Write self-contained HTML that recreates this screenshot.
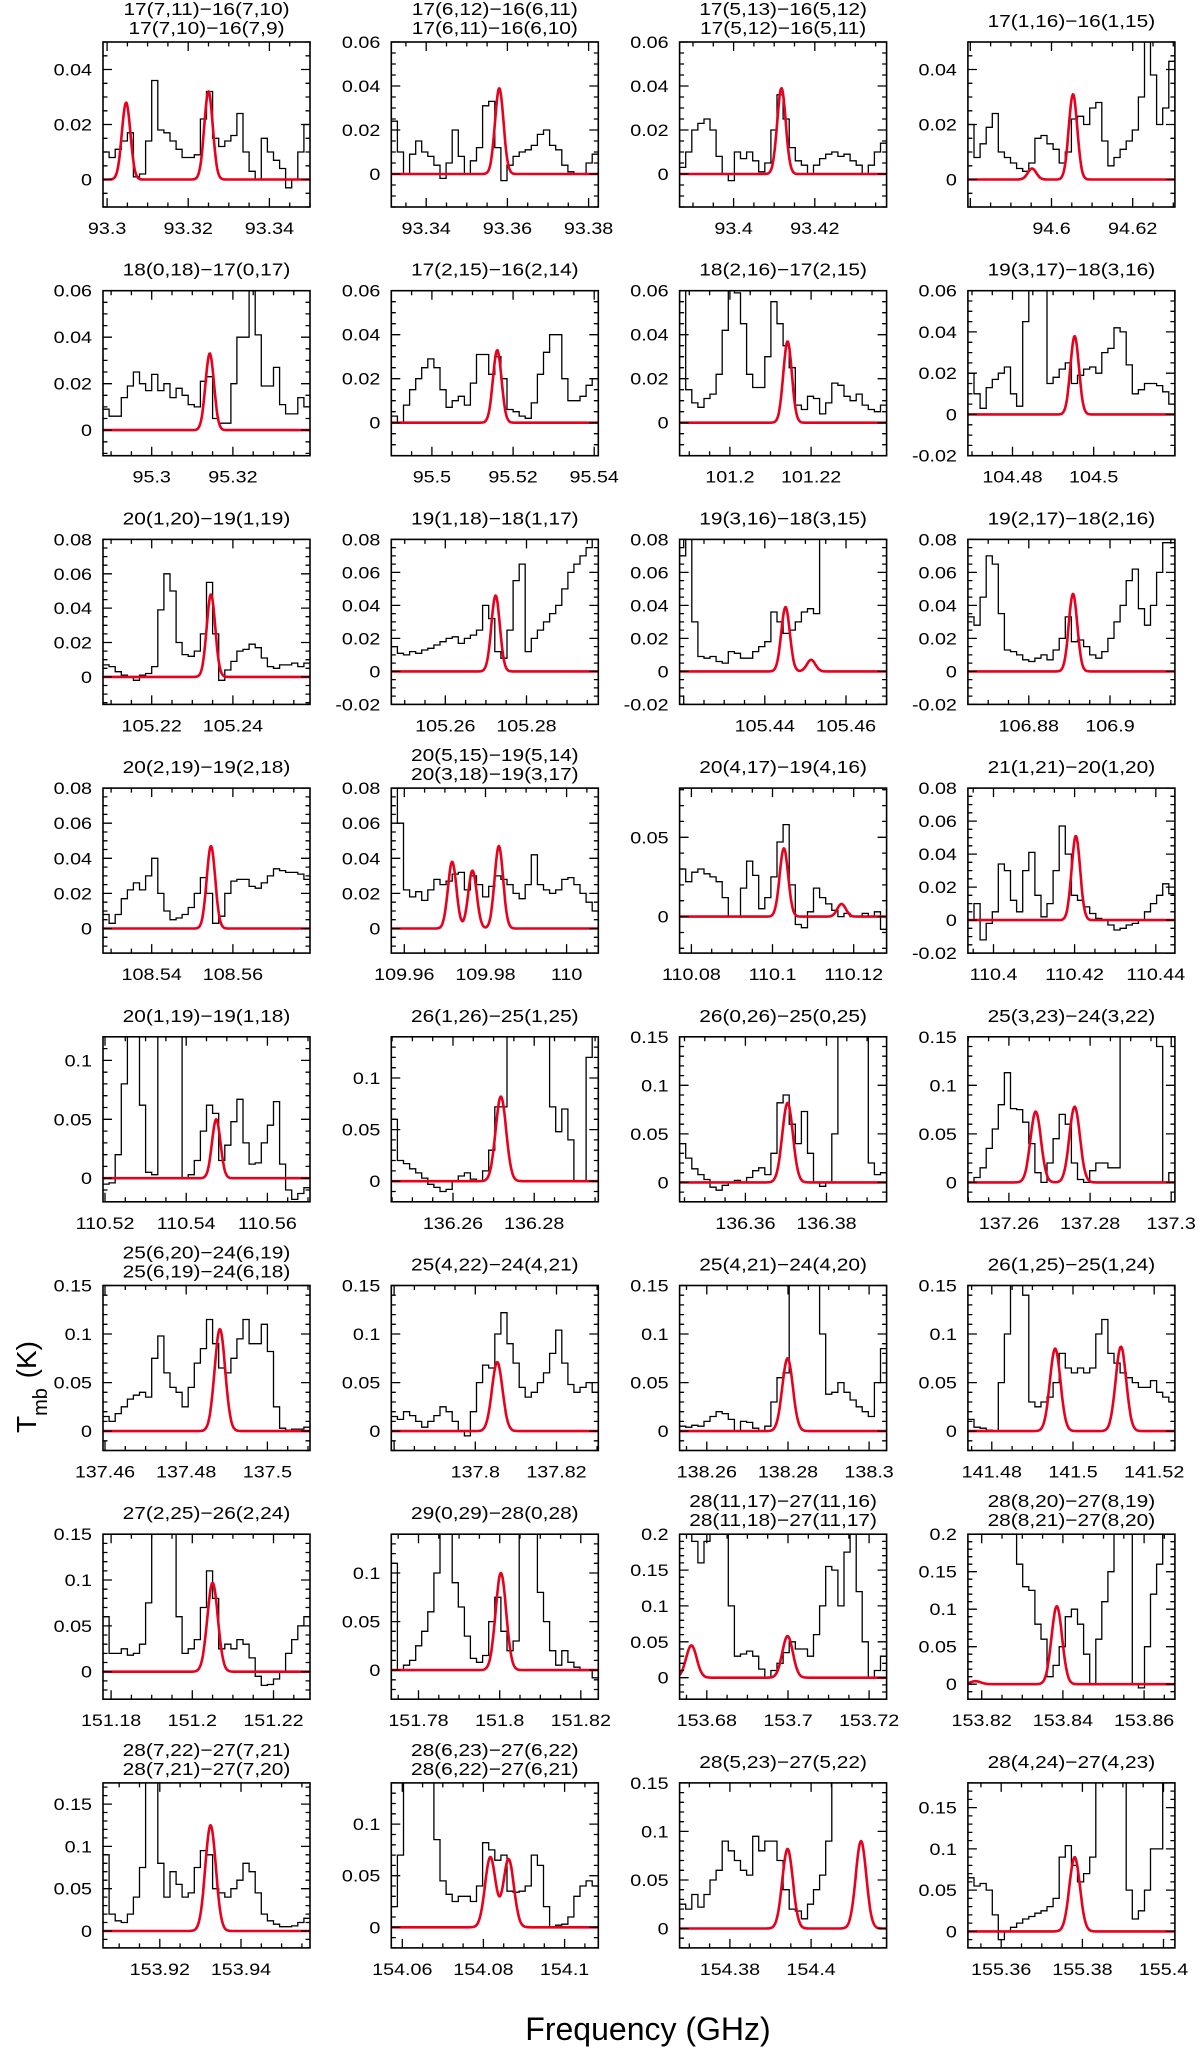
<!DOCTYPE html>
<html><head><meta charset="utf-8"><title>Spectral line panels</title>
<style>
html,body{margin:0;padding:0;background:#fff;}
svg{display:block;font-family:"Liberation Sans",Arial,sans-serif;}
</style></head>
<body>
<svg id="fig" width="1200" height="2048" viewBox="0 0 1200 2048" xmlns="http://www.w3.org/2000/svg">
<rect x="0" y="0" width="1200" height="2048" fill="#fff"/>
<text transform="translate(36,1387) rotate(-90)" text-anchor="middle" font-size="28" fill="#000">T<tspan baseline-shift="sub" font-size="20">mb</tspan><tspan baseline-shift="0" dx="2"> (K)</tspan></text>
<text x="648" y="2040" text-anchor="middle" font-size="32" fill="#000">Frequency (GHz)</text>
</svg>
<script>
const titles = [
["17(7,11)−16(7,10)","17(7,10)−16(7,9)"],["17(6,12)−16(6,11)","17(6,11)−16(6,10)"],["17(5,13)−16(5,12)","17(5,12)−16(5,11)"],["17(1,16)−16(1,15)"],
["18(0,18)−17(0,17)"],["17(2,15)−16(2,14)"],["18(2,16)−17(2,15)"],["19(3,17)−18(3,16)"],
["20(1,20)−19(1,19)"],["19(1,18)−18(1,17)"],["19(3,16)−18(3,15)"],["19(2,17)−18(2,16)"],
["20(2,19)−19(2,18)"],["20(5,15)−19(5,14)","20(3,18)−19(3,17)"],["20(4,17)−19(4,16)"],["21(1,21)−20(1,20)"],
["20(1,19)−19(1,18)"],["26(1,26)−25(1,25)"],["26(0,26)−25(0,25)"],["25(3,23)−24(3,22)"],
["25(6,20)−24(6,19)","25(6,19)−24(6,18)"],["25(4,22)−24(4,21)"],["25(4,21)−24(4,20)"],["26(1,25)−25(1,24)"],
["27(2,25)−26(2,24)"],["29(0,29)−28(0,28)"],["28(11,17)−27(11,16)","28(11,18)−27(11,17)"],["28(8,20)−27(8,19)","28(8,21)−27(8,20)"],
["28(7,22)−27(7,21)","28(7,21)−27(7,20)"],["28(6,23)−27(6,22)","28(6,22)−27(6,21)"],["28(5,23)−27(5,22)"],["28(4,24)−27(4,23)"]
];
const xMins = [93.299,93.3314,93.3867,94.5794, 95.288,95.490,101.1876,104.469, 105.208,105.2467,105.419,106.865,
 108.528,109.9568,110.0771,110.3937, 110.5195,136.2448,136.3438,137.2499, 137.4595,137.7793,138.2533,141.4741,
 151.178,151.7733,153.6733,153.8166, 153.906,154.0573,154.3676,155.3518];
const xTickLabels = [
["93.3","93.32","93.34"],["93.34","93.36","93.38"],["93.4","93.42"],["94.6","94.62"],
["95.3","95.32"],["95.5","95.52","95.54"],["101.2","101.22"],["104.48","104.5"],
["105.22","105.24"],["105.26","105.28"],["105.44","105.46"],["106.88","106.9"],
["108.54","108.56"],["109.96","109.98","110"],["110.08","110.1","110.12"],["110.4","110.42","110.44"],
["110.52","110.54","110.56"],["136.26","136.28"],["136.36","136.38"],["137.26","137.28","137.3"],
["137.46","137.48","137.5"],["137.8","137.82"],["138.26","138.28","138.3"],["141.48","141.5","141.52"],
["151.18","151.2","151.22"],["151.78","151.8","151.82"],["153.68","153.7","153.72"],["153.82","153.84","153.86"],
["153.92","153.94"],["154.06","154.08","154.1"],["154.38","154.4"],["155.36","155.38","155.4"]
];
const yMins = [-0.01,-0.015,-0.015,-0.01, -0.011,-0.015,-0.015,-0.02, -0.016,-0.02,-0.02,-0.02, -0.014,-0.014,-0.023,-0.02,
 -0.02,-0.02,-0.02,-0.02, -0.02,-0.02,-0.02,-0.02, -0.03,-0.03,-0.03,-0.02, -0.02,-0.02,-0.02,-0.02];
const yMaxs = [0.05,0.06,0.06,0.05, 0.06,0.06,0.06,0.06, 0.08,0.08,0.08,0.08, 0.08,0.08,0.081,0.08,
 0.12,0.14,0.15,0.15, 0.15,0.15,0.15,0.15, 0.15,0.14,0.2,0.2, 0.175,0.14,0.15,0.18];
const yTickSteps = [0.02,0.02,0.02,0.02, 0.02,0.02,0.02,0.02, 0.02,0.02,0.02,0.02, 0.02,0.02,0.05,0.02,
 0.05,0.05,0.05,0.05, 0.05,0.05,0.05,0.05, 0.05,0.05,0.05,0.05, 0.05,0.05,0.05,0.05];
const obsValues = [
[0.01,0.008,0.011,0.014,0.017,0.001,0.002,0.014,0.036,0.018,0.017,0.014,0.011,0.008,0.008,0.009,0.022,0.032,0.015,0.012,0.014,0.016,0.024,0.01,0.003,0,0.015,0.01,0.007,0.004,-0.003,0,0.01,0.02],
[0.024,0.01,0,0.009,0.015,0.01,0.008,0.004,-0.002,0.005,0.02,0.008,0,0.006,0.012,0.031,0.033,0.012,-0.003,0.004,0.008,0.01,0.011,0.013,0.018,0.02,0.013,0.011,0.004,0.001,0,0,0.005,0.009],
[0.003,0.01,0.02,0.023,0.025,0.02,0.008,0,-0.003,0.01,0.007,0.01,0.006,0.001,0.005,0.02,0.036,0.025,0.012,0.006,0.004,0,0.004,0.007,0.009,0.01,0.008,0.009,0.006,0.004,0,0.004,0.01,0.014],
[0.02,0.008,0.013,0.019,0.024,0.01,0.008,0.006,0.004,0.003,0.006,0.015,0.016,0.013,0.011,0.006,0.01,0.022,0.023,0.02,0.026,0.028,0.014,0.005,0.008,0.011,0.014,0.018,0.03,0.06,0.038,0.02,0.026,0.043],
[0.009,0.006,0.006,0.014,0.019,0.025,0.02,0.017,0.024,0.017,0.02,0.014,0.018,0.015,0.011,0.01,0.021,0.023,0.005,0.003,0.003,0.02,0.04,0.04,0.07,0.041,0.019,0.019,0.027,0.011,0.007,0.007,0.014,0.01],
[0.003,0,0.008,0.015,0.02,0.025,0.029,0.025,0.015,0.007,0.01,0.012,0.008,0.018,0.031,0.031,0.022,0.03,0.02,0.006,0.005,0.003,0.002,0.009,0.022,0.032,0.04,0.04,0.02,0.01,0.01,0.012,0.017,0.02],
[0.06,0.015,0.009,0.007,0.011,0.013,0.022,0.042,0.06,0.059,0.045,0.022,0.016,0.016,0.03,0.055,0.045,0.035,0.025,0.008,0.006,0.012,0.011,0.004,0.009,0.018,0.017,0.012,0.01,0.013,0.008,0.006,0.005,0.008],
[0.02,0.01,0.003,0.013,0.017,0.02,0.023,0.01,0.004,0.045,0.08,0.08,0.08,0.015,0.018,0.022,0.025,0.015,0.019,0.022,0.023,0.02,0.03,0.032,0.042,0.04,0.024,0.01,0.012,0.015,0.015,0.014,0.011,0.005],
[0.007,0.006,0.003,0.001,0,-0.002,0.001,0.002,0.006,0.039,0.06,0.05,0.02,0.013,0.012,0.015,0.025,0.055,0.025,-0.002,0.004,0.009,0.015,0.016,0.019,0.017,0.011,0.006,0.005,0.007,0.007,0.008,0.006,0.008],
[0.015,0.011,0.01,0.012,0.011,0.013,0.014,0.016,0.018,0.02,0.021,0.017,0.02,0.022,0.025,0.04,0.032,0.012,0.008,0.025,0.055,0.065,0.012,0.02,0.025,0.03,0.035,0.04,0.05,0.06,0.065,0.07,0.075,0.08],
[0.07,0.09,0.03,0.009,0.008,0.009,0.006,0.005,0.012,0.011,0.008,0.008,0.012,0.015,0.018,0.036,0.03,0.023,0.025,0.03,0.036,0.038,0.035,0.09,0.09,0.09,0.09,0.09,0.09,0.09,0.09,0.09,0.09,0.09],
[0.033,0.028,0.045,0.07,0.065,0.035,0.013,0.012,0.01,0.007,0.006,0.008,0.01,0.007,0.013,0.02,0.033,0.018,0.019,0.015,0.01,0.008,0.012,0.02,0.03,0.04,0.055,0.062,0.038,0.028,0.04,0.06,0.078,0.078],
[0.008,0.003,0.008,0.017,0.022,0.026,0.022,0.03,0.04,0.02,0.01,0.005,0.006,0.008,0.012,0.02,0.029,0.02,0.003,0.007,0.02,0.027,0.028,0.028,0.024,0.023,0.026,0.03,0.034,0.033,0.032,0.032,0.031,0.028],
[0.09,0.06,0.022,0.018,0.021,0.016,0.022,0.028,0.025,0.027,0.031,0.032,0.022,0.03,0.025,0.018,0.024,0.03,0.028,0.025,0.02,0.017,0.025,0.042,0.025,0.022,0.02,0.022,0.028,0.029,0.025,0.02,0.015,0.01],
[0.03,0.022,0.028,0.03,0.027,0.025,0.022,0.012,0,0,0.018,0.035,0.026,0.005,0.012,0.025,0.047,0.058,0.02,-0.005,-0.007,0.003,0.018,0.012,0.008,0.004,0,0.002,0,0,0.002,0,0.003,-0.008],
[0,0.01,-0.012,-0.002,0.005,0.034,0.03,0.012,0.005,0.03,0.041,0.015,0.002,0.01,0.03,0.057,0.04,0.015,0.012,0.008,0.004,0.001,0,-0.003,-0.006,-0.005,-0.003,-0.002,0,0.005,0.01,0.015,0.022,0.016],
[-0.005,-0.004,0.02,0.08,0.14,0.14,0.062,0.005,0.003,0.14,0.14,0.14,0.14,0,0.003,0.015,0.04,0.062,0.055,0.015,0.028,0.048,0.067,0.03,0.012,0.013,0.03,0.045,0.065,0.012,-0.01,-0.018,-0.013,-0.008],
[0.06,0.02,0.017,0.012,0.008,0.003,-0.003,-0.006,-0.01,-0.008,0,0.005,0.008,0.002,0,0.01,0.03,0.072,0.072,0.16,0.16,0.16,0.16,0.16,0.16,0.16,0.072,0.048,0.07,0.04,0,0,0.12,0.16],
[0.04,0.025,0.014,0.008,0.003,-0.005,-0.008,-0.003,0,0.002,0,0.005,0.012,0.015,0.008,0.03,0.082,0.09,0.06,0.04,0.073,0.03,0,-0.004,0,0.05,0.17,0.17,0.17,0.17,0.17,0.02,0.008,0.01],
[0,0.005,0.015,0.035,0.055,0.08,0.113,0.076,0.075,0.062,0.04,0.01,0,0.02,0.045,0.07,0.06,0.02,0.003,0,0.012,0.02,0.02,0.015,0.015,0.17,0.17,0.17,0.17,0.17,0.17,0.14,0,0.01],
[0.015,0.01,0.018,0.025,0.033,0.037,0.04,0.035,0.075,0.098,0.06,0.045,0.04,0.025,0.045,0.07,0.085,0.115,0.09,0.065,0.06,0.075,0.095,0.115,0.09,0.09,0.11,0.082,0.025,0.003,0.001,0.002,0.002,0.004],
[0.015,0.012,0.02,0.016,0.01,0.004,0.01,0.016,0.025,0.02,0.01,0,-0.005,0.02,0.05,0.068,0.065,0.1,0.122,0.09,0.07,0.045,0.035,0.04,0.05,0.06,0.08,0.104,0.07,0.048,0.04,0.045,0.05,0.04],
[0.005,0.004,0.006,0.005,0.01,0.015,0.02,0.018,0.012,0,0.01,0.009,0.003,0,0.005,0.03,0.055,0.06,0.17,0.17,0.17,0.17,0.17,0.1,0.038,0.04,0.05,0.04,0.032,0.025,0.02,0.015,0.05,0.085],
[0.012,0.004,0.003,0.001,0,0.05,0.1,0.16,0.15,0.14,0.03,0.025,0.03,0.035,0.05,0.08,0.065,0.06,0.065,0.06,0.065,0.1,0.115,0.08,0.07,0.06,0.055,0.05,0.045,0.045,0.052,0.04,0.035,0.03],
[0.06,0.02,0.02,0.025,0.018,0.02,0.03,0.075,0.17,0.17,0.17,0.17,0.06,0.02,0.025,0.035,0.07,0.11,0.08,0.025,0.03,0.025,0.035,0.03,0.015,-0.005,-0.015,-0.014,-0.008,0,0.02,0.035,0.05,0.06],
[0.11,0,0.005,0.01,0.025,0.04,0.06,0.1,0.16,0.16,0.09,0.065,0.035,0.012,0.008,0.015,0.05,0.075,0.04,0.02,0.03,0.16,0.16,0.14,0.08,0.05,0.02,0.005,0.02,0.008,0.003,0,0,-0.008],
[0.22,0.22,0.19,0.16,0.19,0.22,0.22,0.22,0.1,0.03,0.033,0.037,0.03,0.012,0,0.01,0.02,0.035,0.05,0.04,0.04,0.03,0.06,0.1,0.155,0.15,0.1,0.175,0.2,0.12,0.05,0,0.01,0.03],
[0.25,0.25,0.25,0.25,0.25,0.25,0.25,0.25,0.16,0.13,0.125,0.08,0.06,0.01,0.025,0.05,0.09,0.1,0.08,0.04,0,0.06,0.11,0.15,0.2,0.25,0.25,0,-0.005,0.05,0.12,0.16,0.2,0.25],
[0.09,0.02,0.012,0.01,0.02,0.04,0.075,0.2,0.2,0.08,0.04,0.07,0.055,0.04,0.045,0.075,0.095,0.09,0.05,0.045,0.04,0.05,0.06,0.08,0.07,0.045,0.02,0.012,0.008,0.005,0.005,0.006,0.01,0.015],
[0.02,0.07,0.16,0.16,0.16,0.16,0.16,0.085,0.045,0.032,0.025,0.03,0.03,0.025,0.04,0.082,0.075,0.065,0.07,0.035,0.034,0.035,0.04,0.07,0.06,0.02,0,0.002,0.003,0.01,0.03,0.04,0.045,0.04],
[0.025,0.02,0.035,0.022,0.035,0.05,0.06,0.09,0.08,0.07,0.06,0.055,0.095,0.08,0.09,0.09,0.07,0.04,0.02,0.018,0.01,0.025,0.04,0.055,0.09,0.17,0.17,0.17,0.17,0.17,0.17,0.17,0.17,0.17],
[0.065,0.055,0.058,0.05,0.02,-0.01,0,0.005,0.01,0.015,0.018,0.022,0.025,0.03,0.04,0.09,0.104,0.08,0.06,0.07,0.09,0.2,0.2,0.2,0.2,0.2,0.05,0.015,0.025,0.05,0.1,0.1,0.2,0.2]
];
const lineCenters = [
[93.3047,93.325],[93.358],[93.4118],[94.5952,94.6053],
[95.3143],[95.5161],[101.2142],[104.4953],
[105.2346],[105.2724],[105.4451,105.4514],[106.8909],
[108.5546],[109.9718,109.9768,109.9833],[110.1028,110.117],[110.4203],
[110.5474],[136.2718],[136.3704],[137.2666,137.2762],
[137.4883],[137.8054],[138.2799],[141.4956,141.5118],
[151.205],[151.8003],[153.6762,153.6999],[153.8185,153.8385],
[153.9325],[154.0817,154.0862],[154.3942,154.4123],[155.3781]
];
const lineAmps = [
[0.028,0.032],[0.039],[0.039],[0.004,0.031],
[0.033],[0.033],[0.037],[0.038],
[0.048],[0.046],[0.039,0.007],[0.047],
[0.047],[0.038,0.033,0.047],[0.043,0.008],[0.051],
[0.05],[0.082],[0.082],[0.073,0.078],
[0.105],[0.071],[0.075],[0.085,0.087],
[0.097],[0.1],[0.045,0.058],[0.004,0.104],
[0.125],[0.068,0.066],[0.082,0.09],[0.09]
];

const NS = "http://www.w3.org/2000/svg";
const svg = document.getElementById('fig');
const XSPAN = 0.051, CHAN = 0.0015, PW = 207, PH = 165;
function mk(tag, attrs, parent){ const e=document.createElementNS(NS,tag); for(const k in attrs) e.setAttribute(k,attrs[k]); (parent||svg).appendChild(e); return e; }
function fmt(v){ let s = parseFloat(v.toFixed(4)).toString(); if (s==="-0") s="0"; return s; }
function stext(parent, x, y, anchor, size, str){
  const t = mk('text',{x:0,y:0,transform:'translate('+x+','+y+') scale(1.16,1)','text-anchor':anchor,'font-size':size,fill:'#000'}, parent);
  t.textContent = str;
  return t;
}

for (let i=0;i<titles.length;i++){
  const col=i%4, row=Math.floor(i/4);
  const L = 103 + col*288.3, T = 42 + row*248.7;
  const x0 = xMins[i], ymin=yMins[i], ymax=yMaxs[i];
  const sx = f => L + (f - x0)/XSPAN*PW;
  const sy = v => T + (ymax - v)/(ymax-ymin)*PH;
  const g = mk('g',{});
  
  
  const cp = mk('clipPath',{id:'clip'+i}, g);
  mk('rect',{x:L,y:T,width:PW,height:PH}, cp);

  const tl = titles[i];
  tl.forEach((t,j)=>{
    const yy = tl.length===2 ? (j===0 ? T-27 : T-8) : T-15;
    const te = stext(g, (L+PW/2).toFixed(1), yy, 'middle', 18, t);
    
    
  });

  const vals = obsValues[i];
  let d = '';
  for (let k=0;k<vals.length;k++){
    const xa = sx(x0 + k*CHAN), xb = sx(x0 + (k+1)*CHAN), yv = sy(vals[k]);
    d += (k===0 ? 'M'+xa.toFixed(1)+','+yv.toFixed(1) : 'V'+yv.toFixed(1)) + 'H'+xb.toFixed(1);
  }
  const obs = mk('path',{d:d,fill:'none',stroke:'#000','stroke-width':1.3,'clip-path':'url(#clip'+i+')'}, g);
  
  

  const cs = lineCenters[i], as = lineAmps[i];
  const sig = cs[0] > 120 ? 0.0013 : 0.00105;
  let dm = '';
  for (let s=0;s<=300;s++){
    const f = x0 + XSPAN*s/300;
    let v = 0;
    for (let m=0;m<cs.length;m++) v += as[m]*Math.exp(-0.5*Math.pow((f-cs[m])/sig,2));
    dm += (s===0?'M':'L') + sx(f).toFixed(1)+','+sy(v).toFixed(1);
  }
  const mod = mk('path',{d:dm,fill:'none',stroke:'#e8001c','stroke-width':2.6,'stroke-linejoin':'round','clip-path':'url(#clip'+i+')'}, g);
  
  

  const fr = mk('rect',{x:L,y:T,width:PW,height:PH,fill:'none',stroke:'#000','stroke-width':1.6}, g);
  
  

  let td = '';
  const kx0 = Math.ceil(x0/0.005 - 1e-6), kx1 = Math.floor((x0+XSPAN)/0.005 + 1e-6);
  for (let k=kx0;k<=kx1;k++){
    const xx = sx(k*0.005).toFixed(1);
    const len = (k%4===0) ? 9 : 4.5;
    td += 'M'+xx+','+(T+PH)+'v-'+len+'M'+xx+','+T+'v'+len;
  }
  const st = yTickSteps[i], minor = st===0.02 ? 0.005 : 0.01, ratio = Math.round(st/minor);
  const ky0 = Math.ceil(ymin/minor - 1e-6), ky1 = Math.floor(ymax/minor + 1e-6);
  for (let k=ky0;k<=ky1;k++){
    const yy = sy(k*minor).toFixed(1);
    const major = (k%ratio===0);
    const len = major ? 9 : 4.5;
    td += 'M'+L+','+yy+'h'+len+'M'+(L+PW)+','+yy+'h-'+len;
    if (major){
      const lab = stext(g, (L-11).toFixed(1), (+yy+6).toFixed(1), 'end', 17, fmt(k*minor));
      
      
    }
  }
  const tk = mk('path',{d:td,fill:'none',stroke:'#000','stroke-width':1.3}, g);
  
  

  xTickLabels[i].forEach(s=>{
    const xl = stext(g, sx(parseFloat(s)).toFixed(1), T+PH+27, 'middle', 17, s);
    
    
  });
}
</script>
</body></html>
